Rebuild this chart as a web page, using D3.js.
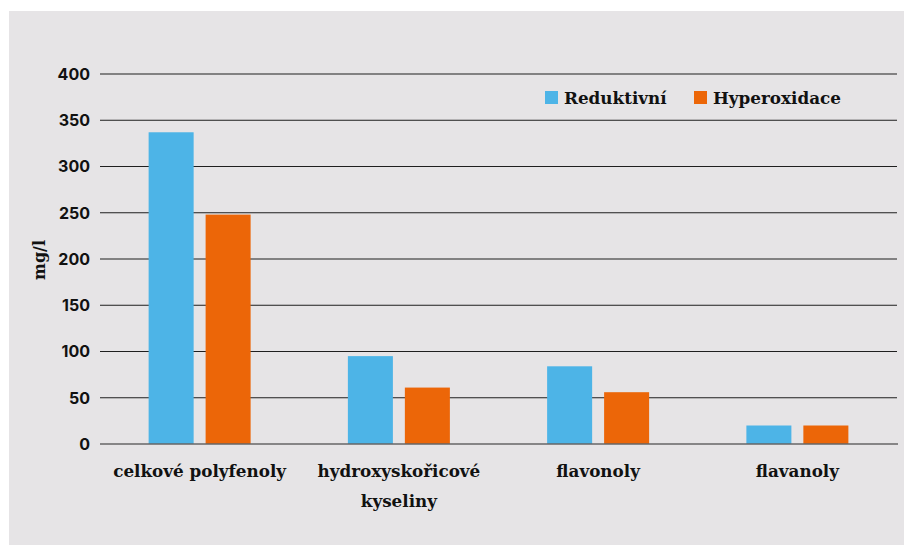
<!DOCTYPE html>
<html>
<head>
<meta charset="utf-8">
<script src="https://cdn.jsdelivr.net/npm/d3@7"></script>
<style>
  html, body { margin: 0; padding: 0; background: #ffffff; }
  svg { display: block; }
</style>
</head>
<body>
<div id="chart"></div>
<script>
// Phenolic content (mg/l) by compound group, for two processing methods
const categories = [["celkové polyfenoly"], ["hydroxyskořicové", "kyseliny"], ["flavonoly"], ["flavanoly"]];
const seriesNames = ["Reduktivní", "Hyperoxidace"];
const reduktivni = [337, 95, 84, 20];
const hyperoxidace = [248, 61, 56, 20];
const yTicks = [0, 50, 100, 150, 200, 250, 300, 350, 400];
const colors = ["#4db4e7", "#ec6608"];

const W = 904, H = 545;
const margin = { left: 100, right: 7, top: 74, bottom: 101 };
const svg = d3.select("#chart").append("svg").attr("width", W).attr("height", H);

// panel background
svg.append("rect").attr("x", 9).attr("y", 11).attr("width", W - 9).attr("height", H - 11)
  .attr("fill", "#e6e4e6");

const x0 = d3.scaleBand().domain(d3.range(categories.length))
  .range([margin.left, W - margin.right]);
const x1 = d3.scaleBand().domain(d3.range(seriesNames.length))
  .range([0, 102]).paddingInner(0.21);
const y = d3.scaleLinear().domain([0, 400]).range([H - margin.bottom, margin.top]);

const sans = "Inter, 'Open Sans', sans-serif";
const serif = "'DejaVu Serif', 'Liberation Serif', serif";

// horizontal gridlines
svg.append("g").selectAll("line").data(yTicks.filter(d => d > 0)).join("line")
  .attr("x1", margin.left).attr("x2", W - margin.right)
  .attr("y1", d => y(d)).attr("y2", d => y(d))
  .attr("stroke", "#1f1f1f").attr("stroke-width", 1);

// y tick labels
svg.append("g").selectAll("text").data(yTicks).join("text")
  .attr("x", 90).attr("y", d => y(d)).attr("dy", "0.36em")
  .attr("text-anchor", "end").attr("font-family", sans).attr("font-weight", 700)
  .attr("font-size", 16).attr("fill", "#111").text(d => d);

// bars
const series = [reduktivni, hyperoxidace];
const groups = svg.append("g").selectAll("g").data(categories).join("g")
  .attr("transform", (d, i) => `translate(${x0(i) + x0.bandwidth() / 2 - 51},0)`);
groups.selectAll("rect").data((d, i) => series.map((s, k) => ({ k, v: s[i] }))).join("rect")
  .attr("x", d => x1(d.k)).attr("width", x1.bandwidth())
  .attr("y", d => y(d.v)).attr("height", d => y(0) - y(d.v))
  .attr("fill", d => colors[d.k]);

// baseline
svg.append("line").attr("x1", margin.left).attr("x2", W - margin.right + 1)
  .attr("y1", y(0)).attr("y2", y(0)).attr("stroke", "#666").attr("stroke-width", 1.5);

// category labels
const catLabels = svg.append("g").selectAll("text").data(categories).join("text")
  .attr("x", (d, i) => x0(i) + x0.bandwidth() / 2).attr("y", 477)
  .attr("text-anchor", "middle").attr("font-family", serif).attr("font-weight", 700)
  .attr("font-size", 16.8).attr("fill", "#111");
catLabels.selectAll("tspan").data(d => d).join("tspan")
  .attr("x", function () { return this.parentNode.getAttribute("x"); })
  .attr("dy", (d, j) => j === 0 ? 0 : 30).text(d => d);

// y axis title
svg.append("text").attr("transform", "translate(45,260) rotate(-90)")
  .attr("text-anchor", "middle").attr("font-family", serif).attr("font-weight", 700)
  .attr("font-size", 16).attr("fill", "#111").text("mg/l");

// legend
const legendX = [545, 694];
const legend = svg.append("g").selectAll("g").data(seriesNames).join("g")
  .attr("transform", (d, i) => `translate(${legendX[i]},91)`);
legend.append("rect").attr("width", 13).attr("height", 13).attr("fill", (d, i) => colors[i]);
legend.append("text").attr("x", 19).attr("y", 13)
  .attr("font-family", serif).attr("font-weight", 700).attr("font-size", 16.8)
  .attr("fill", "#111").text(d => d);
</script>
</body>
</html>
